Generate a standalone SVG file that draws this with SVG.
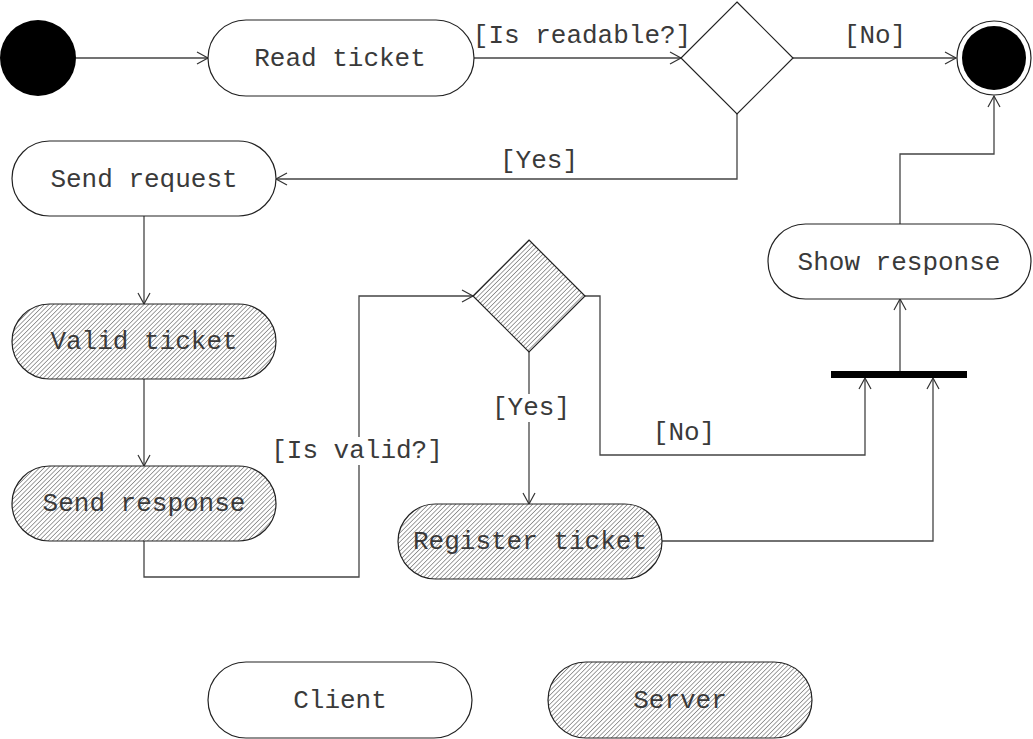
<svg xmlns="http://www.w3.org/2000/svg" width="1033" height="739" viewBox="0 0 1033 739">
<style>
.act{stroke:#222;stroke-width:1.2}
.plain{fill:#fff}
.hatch{fill:url(#hatch)}
.t{font-family:"Liberation Mono","DejaVu Sans Mono",monospace;font-size:26px;fill:#3a3a3a;text-anchor:middle;dominant-baseline:central}
.c{fill:none;stroke:#444;stroke-width:1.3;marker-end:url(#arr)}
.lbg{fill:#fff}
</style>
<defs>
<pattern id="hatch" patternUnits="userSpaceOnUse" width="3.2" height="4" patternTransform="rotate(45)">
<rect width="3.2" height="4" fill="#fff"/>
<line x1="0" y1="0" x2="0" y2="4" stroke="#555" stroke-width="1.1"/>
</pattern>
<marker id="arr" markerWidth="14" markerHeight="14" refX="12" refY="7" orient="auto" markerUnits="userSpaceOnUse">
<path d="M1,1 L12,7 L1,13" fill="none" stroke="#333" stroke-width="1.2"/>
</marker>
</defs>
<g id="connectors">
<path class="c" d="M76,58 H208"/>
<path class="c" d="M474,58 H681"/>
<path class="c" d="M793,58 H956"/>
<path class="c" d="M737,114 V179 H276"/>
<path class="c" d="M144,216 V304"/>
<path class="c" d="M144,379 V466"/>
<path class="c" d="M144,541 V577 H359 V296 H473"/>
<path class="c" d="M529,352 V504"/>
<path class="c" d="M585,296 H600 V455 H865 V378"/>
<path class="c" d="M662,541 H933 V378"/>
<path class="c" d="M900,371 V299"/>
<path class="c" d="M900,224 V154 H994 V96"/>
</g>
<g id="labels">
<rect class="lbg" x="474" y="21" width="216" height="28"/>
<text class="t" x="582" y="36">[Is readable?]</text>
<text class="t" x="875" y="36">[No]</text>
<text class="t" x="539" y="161">[Yes]</text>
<rect class="lbg" x="271" y="437" width="170" height="28"/>
<text class="t" x="357" y="451">[Is valid?]</text>
<rect class="lbg" x="492" y="394" width="78" height="28"/>
<text class="t" x="531" y="408">[Yes]</text>
<text class="t" x="684" y="433">[No]</text>
</g>
<g id="start"><circle cx="38" cy="58" r="38" fill="#000"/></g>
<g id="read-ticket"><rect class="act plain" x="208" y="20" width="266" height="76" rx="38"/><text class="t" x="340" y="59">Read ticket</text></g>
<g id="decision-readable"><polygon class="act plain" points="737,2 793,58 737,114 681,58"/></g>
<g id="end"><circle cx="994" cy="58" r="37" fill="#fff" stroke="#222" stroke-width="1.2"/><circle cx="994" cy="58" r="32" fill="#000"/></g>
<g id="send-request"><rect class="act plain" x="12" y="141" width="264" height="75" rx="37.5"/><text class="t" x="144" y="180">Send request</text></g>
<g id="valid-ticket"><rect class="act hatch" x="12" y="304" width="264" height="75" rx="37.5"/><text class="t" x="144" y="342">Valid ticket</text></g>
<g id="send-response"><rect class="act hatch" x="12" y="466" width="264" height="75" rx="37.5"/><text class="t" x="144" y="504">Send response</text></g>
<g id="decision-valid"><polygon class="act hatch" points="529,240 585,296 529,352 473,296"/></g>
<g id="register-ticket"><rect class="act hatch" x="398" y="504" width="264" height="75" rx="37.5"/><text class="t" x="530" y="542">Register ticket</text></g>
<g id="join-bar"><rect x="831" y="371" width="136" height="7" fill="#000"/></g>
<g id="show-response"><rect class="act plain" x="768" y="224" width="263" height="75" rx="37.5"/><text class="t" x="899" y="263">Show response</text></g>
<g id="legend-client"><rect class="act plain" x="208" y="662" width="264" height="76" rx="38"/><text class="t" x="340" y="701">Client</text></g>
<g id="legend-server"><rect class="act hatch" x="548" y="662" width="264" height="76" rx="38"/><text class="t" x="680" y="701">Server</text></g>
</svg>
